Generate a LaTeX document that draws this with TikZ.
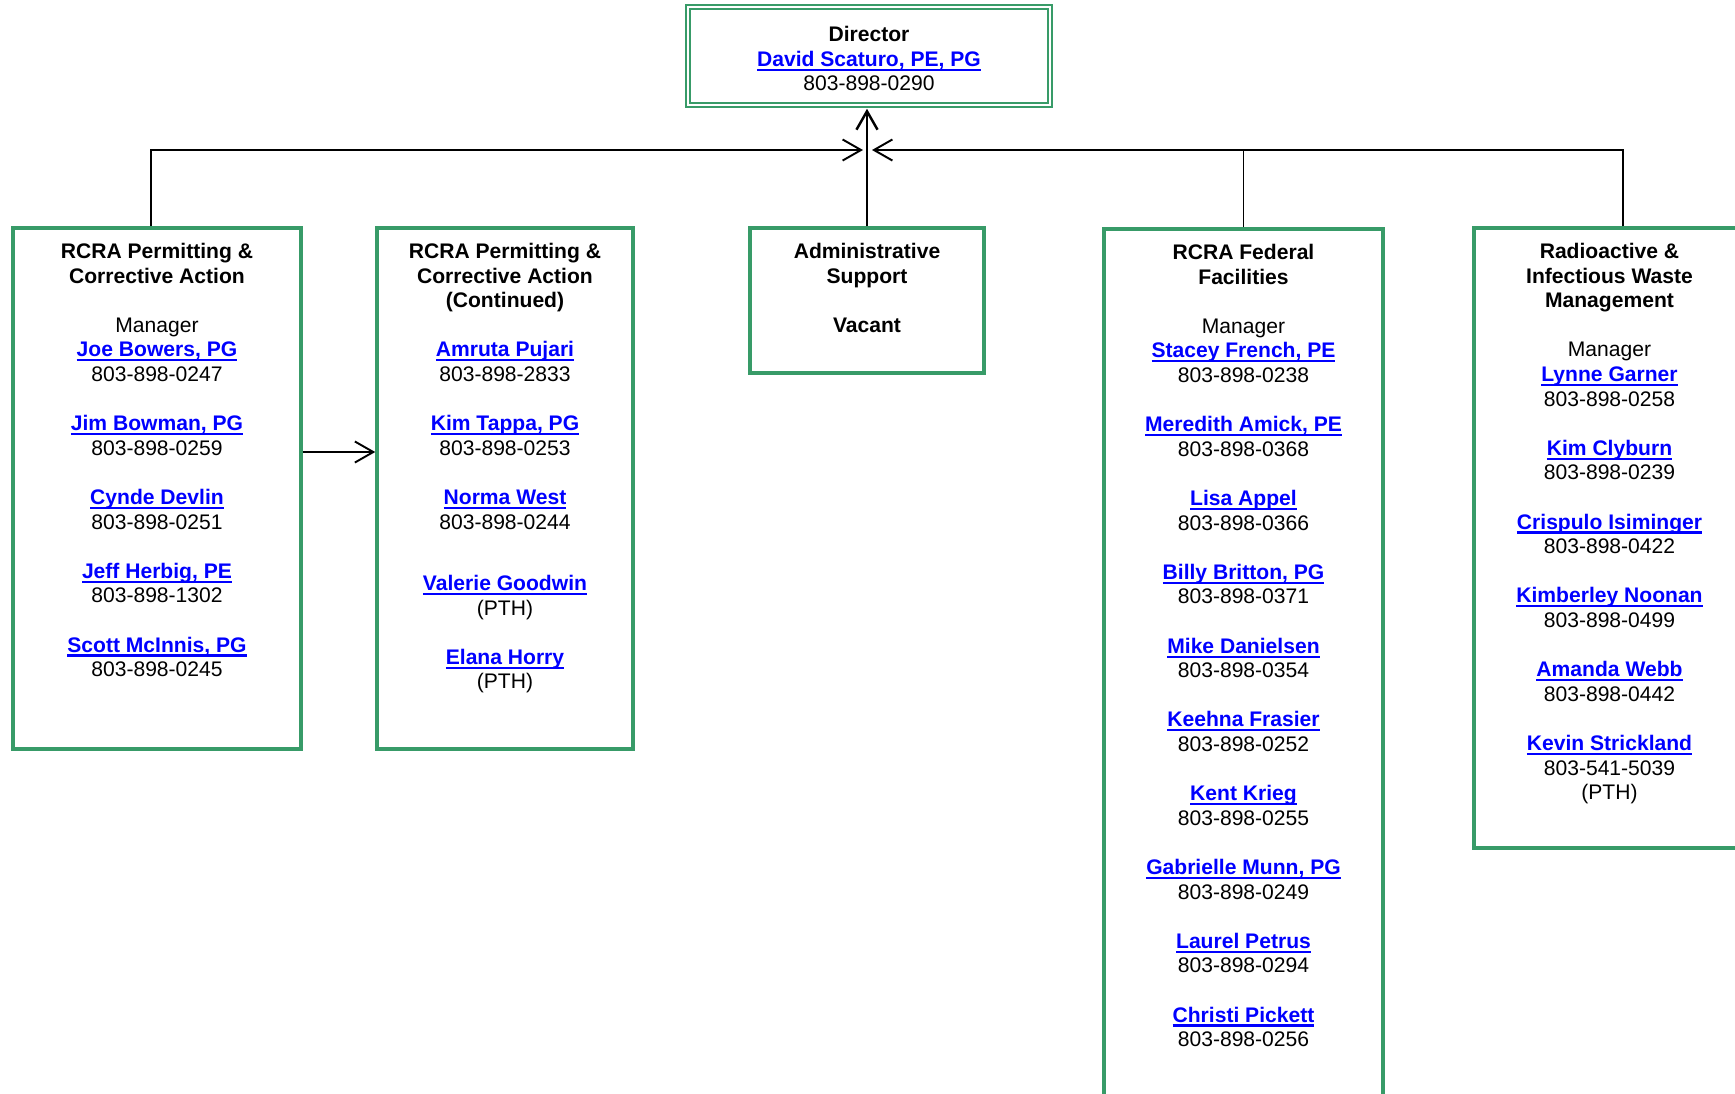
\documentclass[tikz,border=0pt]{standalone}
\usepackage{fontspec}
\setmainfont{Liberation Sans}
\usetikzlibrary{arrows.meta}
\definecolor{boxgreen}{RGB}{56,155,104}
\definecolor{linkblue}{RGB}{0,0,255}
\newcommand{\lnk}[1]{{\color{linkblue}\bfseries\setbox0=\hbox{#1}\rlap{\rule[-2.6pt]{\wd0}{1.2pt}}\box0}}

\tikzset{
  unit/.style={draw=boxgreen, line width=2pt, inner sep=0pt},
  txt/.style={anchor=north, align=center, inner sep=0pt, font=\fontsize{12}{14}\selectfont},
  link/.style={line width=1.1pt},
  >={Straight Barb[length=10.5pt,width=12pt]}
}

\begin{document}
\begin{tikzpicture}[x=0.02cm, y=-0.02cm]

\useasboundingbox (0,0) rectangle (1735,1093);
\clip (0,0) rectangle (1735,1093);
\fill[white] (0,0) rectangle (1735,1093);

\node[unit, double=white, double distance=1.2pt, line width=1.3pt, minimum width=7.24cm, minimum height=1.96cm] (dir) at (869,56) {};
\node[unit, minimum width=5.76cm, minimum height=10.42cm] (perm) at (157,488.5) {};
\node[unit, minimum width=5.12cm, minimum height=10.42cm] (permc) at (505,488.5) {};
\node[unit, minimum width=4.68cm, minimum height=2.9cm] (admin) at (867,300.5) {};
\node[unit, minimum width=5.58cm, minimum height=17.82cm] (fed) at (1243.5,674.5) {};
\node[unit, minimum width=5.42cm, minimum height=12.4cm] (rad) at (1609.5,538) {};

\node[txt] (dir-t) at ([yshift=-11.5pt]dir.north) {\textbf{Director}\\ \lnk{David Scaturo, PE, PG}\\ 803-898-0290};

\node[txt] (perm-t) at ([yshift=-9.4pt]perm.north) {\textbf{RCRA Permitting \&}\\ \textbf{Corrective Action}\\[14pt]
  Manager\\ \lnk{Joe Bowers, PG}\\ 803-898-0247\\[14pt]
  \lnk{Jim Bowman, PG}\\ 803-898-0259\\[14pt]
  \lnk{Cynde Devlin}\\ 803-898-0251\\[14pt]
  \lnk{Jeff Herbig, PE}\\ 803-898-1302\\[14pt]
  \lnk{Scott McInnis, PG}\\ 803-898-0245};

\node[txt] (permc-t) at ([yshift=-9.4pt]permc.north) {\textbf{RCRA Permitting \&}\\ \textbf{Corrective Action}\\ \textbf{(Continued)}\\[14pt]
  \lnk{Amruta Pujari}\\ 803-898-2833\\[14pt]
  \lnk{Kim Tappa, PG}\\ 803-898-0253\\[14pt]
  \lnk{Norma West}\\ 803-898-0244\\[21pt]
  \lnk{Valerie Goodwin}\\ (PTH)\\[14pt]
  \lnk{Elana Horry}\\ (PTH)};

\node[txt] (admin-t) at ([yshift=-9.4pt]admin.north) {\textbf{Administrative}\\ \textbf{Support}\\[14pt] \textbf{Vacant}};

\node[txt] (fed-t) at ([yshift=-9.4pt]fed.north) {\textbf{RCRA Federal}\\ \textbf{Facilities}\\[14pt]
  Manager\\ \lnk{Stacey French, PE}\\ 803-898-0238\\[14pt]
  \lnk{Meredith Amick, PE}\\ 803-898-0368\\[14pt]
  \lnk{Lisa Appel}\\ 803-898-0366\\[14pt]
  \lnk{Billy Britton, PG}\\ 803-898-0371\\[14pt]
  \lnk{Mike Danielsen}\\ 803-898-0354\\[14pt]
  \lnk{Keehna Frasier}\\ 803-898-0252\\[14pt]
  \lnk{Kent Krieg}\\ 803-898-0255\\[14pt]
  \lnk{Gabrielle Munn, PG}\\ 803-898-0249\\[14pt]
  \lnk{Laurel Petrus}\\ 803-898-0294\\[14pt]
  \lnk{Christi Pickett}\\ 803-898-0256};

\node[txt] (rad-t) at ([yshift=-9.4pt]rad.north) {\textbf{Radioactive \&}\\ \textbf{Infectious Waste}\\ \textbf{Management}\\[14pt]
  Manager\\ \lnk{Lynne Garner}\\ 803-898-0258\\[14pt]
  \lnk{Kim Clyburn}\\ 803-898-0239\\[14pt]
  \lnk{Crispulo Isiminger}\\ 803-898-0422\\[14pt]
  \lnk{Kimberley Noonan}\\ 803-898-0499\\[14pt]
  \lnk{Amanda Webb}\\ 803-898-0442\\[14pt]
  \lnk{Kevin Strickland}\\ 803-541-5039\\ (PTH)};

\coordinate (J) at (867,150);
\coordinate (JL) at (863,150);
\coordinate (JR) at (872,150);
\draw[link, ->, line width=1.4pt, shorten >=1.5pt] (admin.north) -- (admin.north |- dir.south);
\draw[link, ->] ([xshift=-0.12cm]perm.north) |- (JL);
\draw[link, ->] ([xshift=0.27cm]rad.north) |- (JR);
\draw[link] (fed.north) -- (fed.north |- J);
\draw[link, ->] ([yshift=0.73cm]perm.east) -- ([yshift=0.73cm]permc.west);

\end{tikzpicture}
\end{document}
